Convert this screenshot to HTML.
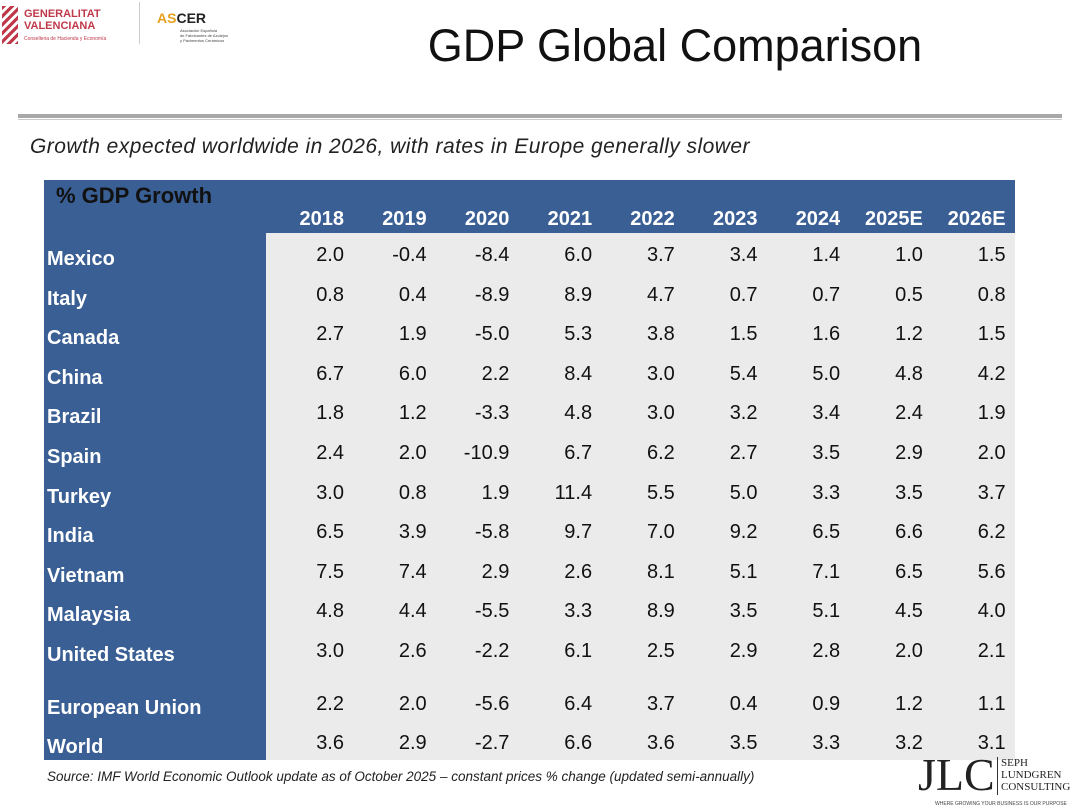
<!DOCTYPE html>
<html><head><meta charset="utf-8">
<style>
body{margin:0;width:1080px;height:810px;background:#fff;position:relative;overflow:hidden;font-family:"Liberation Sans",sans-serif}
.a{position:absolute}
.cell{position:absolute;font-size:20px;color:#111;text-align:right;width:80px;line-height:24px}
.lab{position:absolute;font-size:20px;color:#fff;font-weight:bold;line-height:24px;left:47px}
.yr{position:absolute;font-size:20px;color:#fff;font-weight:bold;text-align:right;width:80px;top:207px;line-height:24px}
</style></head><body>
<div class="a" style="left:2px;top:4px;width:130px;height:42px">
 <div class="a" style="left:0;top:2px;width:16px;height:38px;background:repeating-linear-gradient(135deg,#c0394a 0 3px,#fff 3px 6px)"></div>
 <div class="a" style="left:22px;top:4px;font-size:11px;line-height:12px;color:#c0394a;font-weight:bold">GENERALITAT<br>VALENCIANA</div>
 <div class="a" style="left:22px;top:32px;font-size:5px;color:#c0394a;white-space:nowrap">Conselleria de Hacienda y Economía</div>
</div>
<div class="a" style="left:139px;top:2px;width:1px;height:42px;background:#ccc"></div>
<div class="a" style="left:157px;top:10px;font-size:14px;font-weight:bold;color:#222"><span style="color:#e8a020">AS</span>CER</div>
<div class="a" style="left:180px;top:28px;font-size:4px;color:#444;line-height:5px">Asociación Española<br>de Fabricantes de Azulejos<br>y Pavimentos Cerámicos</div>
<div class="a" style="left:380px;width:590px;text-align:center;top:20px;font-size:45px;color:#111">GDP Global Comparison</div>
<div class="a" style="left:18px;top:114px;width:1044px;height:4px;background:#a8a8a8"></div>
<div class="a" style="left:18px;top:119px;width:1044px;height:1px;background:#c8c8c8"></div>
<div class="a" style="left:30px;top:135px;font-size:21px;letter-spacing:0.45px;font-style:italic;color:#222;white-space:nowrap">Growth expected worldwide in 2026, with rates in Europe generally slower</div>
<div id="tbl"></div>
<div class="a" style="left:47px;top:769px;font-size:13.5px;font-style:italic;color:#222;white-space:nowrap">Source: IMF World Economic Outlook update as of October 2025 – constant prices % change (updated semi-annually)</div>
<div class="a" style="left:918px;top:752px;font-family:'Liberation Serif',serif;font-size:46px;color:#222;line-height:46px">JLC</div>
<div class="a" style="left:997px;top:757px;width:1px;height:38px;background:#333"></div>
<div class="a" style="left:1001px;top:757px;font-family:'Liberation Serif',serif;font-size:11px;line-height:12px;color:#222">SEPH<br>LUNDGREN<br>CONSULTING</div>
<div class="a" style="left:935px;top:801px;font-size:5px;color:#444">WHERE GROWING YOUR BUSINESS IS OUR PURPOSE</div>
<script>
const years=["2018","2019","2020","2021","2022","2023","2024","2025E","2026E"];
const countries=["Mexico","Italy","Canada","China","Brazil","Spain","Turkey","India","Vietnam","Malaysia","United States","European Union","World"];
const values=[
[2.0,-0.4,-8.4,6.0,3.7,3.4,1.4,1.0,1.5],
[0.8,0.4,-8.9,8.9,4.7,0.7,0.7,0.5,0.8],
[2.7,1.9,-5.0,5.3,3.8,1.5,1.6,1.2,1.5],
[6.7,6.0,2.2,8.4,3.0,5.4,5.0,4.8,4.2],
[1.8,1.2,-3.3,4.8,3.0,3.2,3.4,2.4,1.9],
[2.4,2.0,-10.9,6.7,6.2,2.7,3.5,2.9,2.0],
[3.0,0.8,1.9,11.4,5.5,5.0,3.3,3.5,3.7],
[6.5,3.9,-5.8,9.7,7.0,9.2,6.5,6.6,6.2],
[7.5,7.4,2.9,2.6,8.1,5.1,7.1,6.5,5.6],
[4.8,4.4,-5.5,3.3,8.9,3.5,5.1,4.5,4.0],
[3.0,2.6,-2.2,6.1,2.5,2.9,2.8,2.0,2.1],
[2.2,2.0,-5.6,6.4,3.7,0.4,0.9,1.2,1.1],
[3.6,2.9,-2.7,6.6,3.6,3.5,3.3,3.2,3.1]];
const t=document.getElementById('tbl');
function mk(cls,css,txt){const d=document.createElement('div');d.className=cls;d.style.cssText=css;if(txt!==undefined)d.textContent=txt;t.appendChild(d);return d;}
const bg=mk('a','left:44px;top:180px;width:971px;height:580px;background:#ebebeb');


const hd=mk('a','left:44px;top:180px;width:971px;height:53px;background:#3a5f94');


const lc=mk('a','left:44px;top:180px;width:222px;height:580px;background:#3a5f94');


const hl=mk('a','left:56px;top:183px;font-size:22px;font-weight:bold;color:#111','% GDP Growth');


function colX(i){return 266+i*82.7;}
function rowY(r){let y=243+r*39.6;if(r>=11)y+=13;return y;}
years.forEach((y,i)=>{const d=mk('yr','left:'+(colX(i)-2)+'px',y);

});
countries.forEach((c,r)=>{
 const l=mk('lab','top:'+(rowY(r)+4)+'px',c);
 
 
 values[r].forEach((v,i)=>{const d=mk('cell','left:'+(colX(i)-2)+'px;top:'+rowY(r)+'px',v.toFixed(1));
 
 });
});
</script>
</body></html>
